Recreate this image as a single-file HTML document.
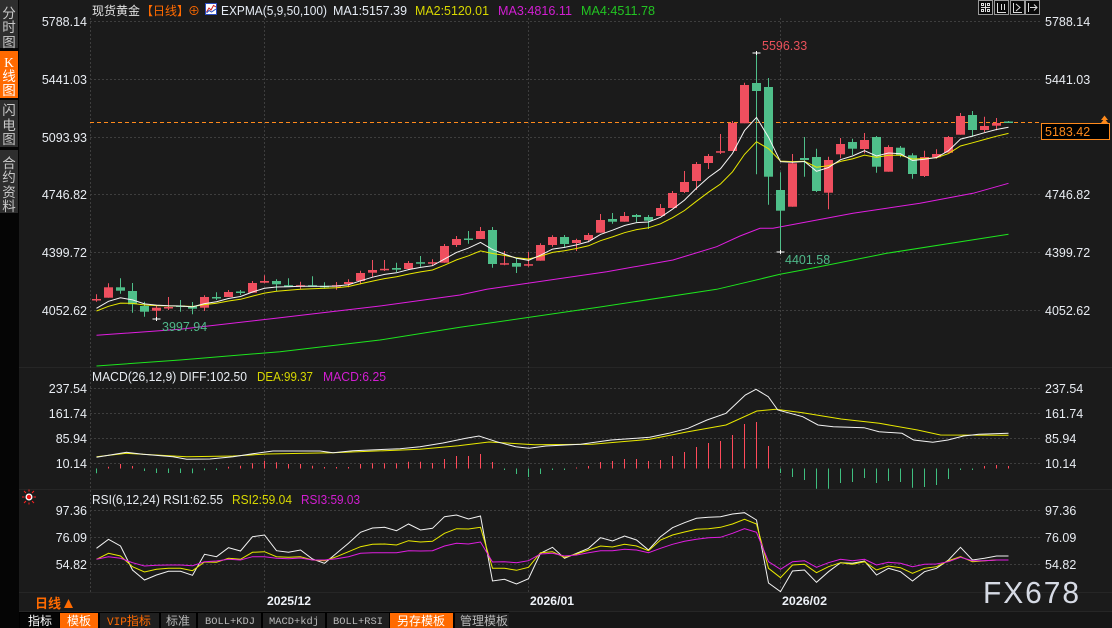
<!DOCTYPE html>
<html><head><meta charset="utf-8">
<style>
html,body{margin:0;padding:0;background:#1b1b1b;width:1112px;height:628px;overflow:hidden}
svg{display:block}
text{font-family:"Liberation Sans","Noto Sans CJK SC",sans-serif}
.ax{font-size:12.5px;fill:#e8ecf2}
.cj{font-family:"Liberation Sans","Noto Sans CJK SC",sans-serif}
.mono{font-family:"Liberation Mono","Noto Sans CJK SC",monospace}
</style></head>
<body>
<svg id="s" width="1112" height="628" viewBox="0 0 1112 628" xmlns="http://www.w3.org/2000/svg">
<rect width="1112" height="628" fill="#1b1b1b"/>

<!-- left sidebar -->
<rect x="0" y="0" width="19" height="628" fill="#050505"/>
<rect x="0" y="0" width="18" height="48" fill="#2e2e2e"/>
<rect x="0" y="51" width="18" height="47" fill="#ff6a00"/>
<rect x="0" y="100" width="18" height="47" fill="#2e2e2e"/>
<rect x="0" y="150" width="18" height="63" fill="#2e2e2e"/>
<g font-size="13.5" text-anchor="middle" fill="#c8c8c8">
<text x="9" y="18">分</text><text x="9" y="32">时</text><text x="9" y="47">图</text>
<text x="9" y="67" fill="#ffffff" style="font-family:'Liberation Serif',serif">K</text><text x="9" y="81" fill="#ffffff">线</text><text x="9" y="95" fill="#ffffff">图</text>
<text x="9" y="115">闪</text><text x="9" y="130">电</text><text x="9" y="144">图</text>
<text x="9" y="168">合</text><text x="9" y="182">约</text><text x="9" y="197">资</text><text x="9" y="211">料</text>
</g>

<!-- panel separators -->
<g stroke="#262626" stroke-width="1">
<line x1="19" y1="367.5" x2="1112" y2="367.5"/>
<line x1="19" y1="489.5" x2="1112" y2="489.5"/>
<line x1="19" y1="592.5" x2="1112" y2="592.5"/>
<line x1="19" y1="611.5" x2="1112" y2="611.5"/>
</g>

<!-- grid -->
<g stroke="#3e3e3e" stroke-width="1" stroke-dasharray="2 2" fill="none">
<line x1="90" y1="21.5" x2="1040" y2="21.5"/>
<line x1="90" y1="79.5" x2="1040" y2="79.5"/>
<line x1="90" y1="137.5" x2="1040" y2="137.5"/>
<line x1="90" y1="194.5" x2="1040" y2="194.5"/>
<line x1="90" y1="252.5" x2="1040" y2="252.5"/>
<line x1="90" y1="310.5" x2="1040" y2="310.5"/>
<line x1="90" y1="388.5" x2="1040" y2="388.5"/>
<line x1="90" y1="413.5" x2="1040" y2="413.5"/>
<line x1="90" y1="438.5" x2="1040" y2="438.5"/>
<line x1="90" y1="463.5" x2="1040" y2="463.5"/>
<line x1="90" y1="510.5" x2="1040" y2="510.5"/>
<line x1="90" y1="537.5" x2="1040" y2="537.5"/>
<line x1="90" y1="564.5" x2="1040" y2="564.5"/>
<line x1="90.5" y1="18" x2="90.5" y2="592"/>
<line x1="264.5" y1="18" x2="264.5" y2="592"/>
<line x1="528.5" y1="18" x2="528.5" y2="592"/>
<line x1="780.5" y1="18" x2="780.5" y2="592"/>
</g>

<!-- current price dashed line -->
<line x1="90" y1="122.5" x2="1040" y2="122.5" stroke="#ff8a1c" stroke-width="1" stroke-dasharray="4 3"/>

<g id="plot"></g>

<!-- header -->
<text x="92" y="15" font-size="12" fill="#e2e2e2">现货黄金</text>
<text x="141" y="15" font-size="12" fill="#ff6a00">【日线】</text>
<text x="188" y="15" font-size="12" fill="#ff6a00">⊕</text>
<rect x="205.5" y="3.5" width="11" height="11" fill="#ffffff" stroke="#2a4cc0"/>
<polyline points="206.5,12 209,8 211,10 213.5,5.5 216,7" fill="none" stroke="#d02020" stroke-width="1"/>
<polyline points="206.5,13 209,10.5 211.5,12 216,9" fill="none" stroke="#2a4cc0" stroke-width="1"/>
<text x="221" y="15" font-size="12.5" fill="#e6ecf5" textLength="106" lengthAdjust="spacingAndGlyphs">EXPMA(5,9,50,100)</text>
<text x="333" y="15" font-size="12.5" fill="#e6ecf5" textLength="74" lengthAdjust="spacingAndGlyphs">MA1:5157.39</text>
<text x="415" y="15" font-size="12.5" fill="#d8d800" textLength="74" lengthAdjust="spacingAndGlyphs">MA2:5120.01</text>
<text x="498" y="15" font-size="12.5" fill="#d21ed2" textLength="74" lengthAdjust="spacingAndGlyphs">MA3:4816.11</text>
<text x="581" y="15" font-size="12.5" fill="#22c422" textLength="74" lengthAdjust="spacingAndGlyphs">MA4:4511.78</text>

<!-- top-right icons -->
<g stroke="#9a9a9a" fill="#0a0a0a">
<rect x="978.5" y="0.5" width="14" height="14"/>
<rect x="994.5" y="0.5" width="14" height="14"/>
<rect x="1010.5" y="0.5" width="14" height="14"/>
<rect x="1025.5" y="0.5" width="14" height="14"/>
</g>
<g stroke="#dddddd" stroke-width="1" fill="none">
<line x1="985.5" y1="3" x2="985.5" y2="12"/><line x1="981" y1="7.5" x2="990" y2="7.5"/>
<rect x="981.5" y="3.5" width="2" height="2"/><rect x="987.5" y="3.5" width="2" height="2"/><rect x="981.5" y="9.5" width="2" height="2"/><rect x="987.5" y="9.5" width="2" height="2"/>
<line x1="997.5" y1="3" x2="997.5" y2="12"/><line x1="997" y1="12.5" x2="1006" y2="12.5"/><line x1="1001.5" y1="4" x2="1001.5" y2="10"/><line x1="1004.5" y1="4" x2="1004.5" y2="10"/>
<line x1="1013.5" y1="3" x2="1013.5" y2="12"/><line x1="1013" y1="12.5" x2="1022" y2="12.5"/><polyline points="1016,4 1020,7.5 1016,11"/>
<line x1="1028.5" y1="3" x2="1028.5" y2="12"/><line x1="1030" y1="7.5" x2="1037" y2="7.5"/><polyline points="1034,4.5 1037,7.5 1034,10.5"/>
</g>

<!-- left axis labels -->
<g class="ax" text-anchor="end">
<text x="87" y="26">5788.14</text>
<text x="87" y="84">5441.03</text>
<text x="87" y="142">5093.93</text>
<text x="87" y="199">4746.82</text>
<text x="87" y="257">4399.72</text>
<text x="87" y="315">4052.62</text>
<text x="87" y="393">237.54</text>
<text x="87" y="418">161.74</text>
<text x="87" y="443">85.94</text>
<text x="87" y="468">10.14</text>
<text x="87" y="515">97.36</text>
<text x="87" y="542">76.09</text>
<text x="87" y="569">54.82</text>
</g>
<!-- right axis labels -->
<g class="ax">
<text x="1045" y="26">5788.14</text>
<text x="1045" y="84">5441.03</text>
<text x="1045" y="199">4746.82</text>
<text x="1045" y="257">4399.72</text>
<text x="1045" y="315">4052.62</text>
<text x="1045" y="393">237.54</text>
<text x="1045" y="418">161.74</text>
<text x="1045" y="443">85.94</text>
<text x="1045" y="468">10.14</text>
<text x="1045" y="515">97.36</text>
<text x="1045" y="542">76.09</text>
<text x="1045" y="569">54.82</text>
</g>
<!-- current price box -->
<rect x="1041.5" y="123.5" width="68" height="16" fill="#000000" stroke="#ff8a1c"/>
<text x="1045" y="136" font-size="12.5" fill="#ff8a1c">5183.42</text>
<polygon points="1101,120 1104.5,115.5 1108,120" fill="#ff8a1c"/>
<polygon points="1101,123 1104.5,118.5 1108,123" fill="#ff8a1c"/>

<!-- extreme labels -->
<text x="762" y="50" font-size="12.5" fill="#e8505a">5596.33</text>
<text x="785" y="264" font-size="12.5" fill="#4fb88a">4401.58</text>
<text x="162" y="331" font-size="12.5" fill="#4fb88a">3997.94</text>

<!-- MACD header -->
<text x="92" y="381" font-size="12.5" fill="#e8ecf2" textLength="155" lengthAdjust="spacingAndGlyphs">MACD(26,12,9) DIFF:102.50</text>
<text x="257" y="381" font-size="12.5" fill="#d8d800" textLength="56" lengthAdjust="spacingAndGlyphs">DEA:99.37</text>
<text x="323" y="381" font-size="12.5" fill="#d21ed2" textLength="63" lengthAdjust="spacingAndGlyphs">MACD:6.25</text>

<!-- RSI header -->
<g>
<line x1="24" y1="491" x2="26" y2="493" stroke="#ff2020"/><line x1="34" y1="491" x2="32" y2="493" stroke="#ff2020"/>
<line x1="24" y1="503" x2="26" y2="501" stroke="#ff2020"/><line x1="34" y1="503" x2="32" y2="501" stroke="#ff2020"/>
<line x1="22" y1="497" x2="24.5" y2="497" stroke="#ff2020"/><line x1="33.5" y1="497" x2="36" y2="497" stroke="#ff2020"/>
<line x1="29" y1="489.5" x2="29" y2="491.5" stroke="#ff2020"/><line x1="29" y1="502.5" x2="29" y2="504.5" stroke="#ff2020"/>
<circle cx="29" cy="497" r="3.5" fill="#ffffff"/><circle cx="29" cy="497" r="2.2" fill="#ee1111"/>
</g>
<text x="92" y="504" font-size="12.5" fill="#e8ecf2" textLength="131" lengthAdjust="spacingAndGlyphs">RSI(6,12,24) RSI1:62.55</text>
<text x="232" y="504" font-size="12.5" fill="#d8d800" textLength="60" lengthAdjust="spacingAndGlyphs">RSI2:59.04</text>
<text x="301" y="504" font-size="12.5" fill="#d21ed2" textLength="59" lengthAdjust="spacingAndGlyphs">RSI3:59.03</text>

<!-- date axis -->
<g font-size="12" font-weight="bold" fill="#eef2f8">
<text x="267" y="605" textLength="44" lengthAdjust="spacingAndGlyphs">2025/12</text>
<text x="530" y="605" textLength="44" lengthAdjust="spacingAndGlyphs">2026/01</text>
<text x="782" y="605" textLength="45" lengthAdjust="spacingAndGlyphs">2026/02</text>
</g>
<text x="35" y="608" font-size="13" font-weight="bold" fill="#ff6a00">日线</text>
<polygon points="64,608 68.5,599 73,608" fill="#ff6a00"/>

<!-- watermark -->
<text x="983" y="603" font-size="31" fill="#d6dae4" letter-spacing="2" textLength="98" lengthAdjust="spacingAndGlyphs">FX678</text>

<!-- bottom toolbar -->
<rect x="19" y="612" width="1093" height="16" fill="#161616"/>
<rect x="19" y="612" width="490" height="16" fill="#000000"/>
<rect x="20" y="613" width="39" height="15" fill="#050505"/>
<rect x="60" y="613" width="38" height="15" fill="#ff6a00"/>
<rect x="100" y="613" width="59" height="15" fill="#1f1f1f"/>
<rect x="161" y="613" width="35" height="15" fill="#1f1f1f"/>
<rect x="198" y="613" width="63" height="15" fill="#1f1f1f"/>
<rect x="263" y="613" width="62" height="15" fill="#1f1f1f"/>
<rect x="327" y="613" width="62" height="15" fill="#1f1f1f"/>
<rect x="390" y="613" width="63" height="15" fill="#ff6a00"/>
<rect x="455" y="613" width="54" height="15" fill="#1f1f1f"/>
<g font-size="12">
<text x="28" y="625" fill="#ffffff">指标</text>
<text x="67" y="625" fill="#ffffff">模板</text>
<text x="107" y="625" fill="#ff6a00"><tspan class="mono" font-size="11">VIP</tspan>指标</text>
<text x="166" y="625" fill="#b8b8b8">标准</text>
<text x="205" y="624" class="mono" font-size="10.5" fill="#b8b8b8" textLength="50" lengthAdjust="spacingAndGlyphs">BOLL+KDJ</text>
<text x="269" y="624" class="mono" font-size="10.5" fill="#b8b8b8" textLength="50" lengthAdjust="spacingAndGlyphs">MACD+kdj</text>
<text x="333" y="624" class="mono" font-size="10.5" fill="#b8b8b8" textLength="50" lengthAdjust="spacingAndGlyphs">BOLL+RSI</text>
<text x="397" y="625" fill="#ffffff">另存模板</text>
<text x="460" y="625" fill="#b8b8b8">管理模板</text>
</g>
</svg>

<script>
(function(){
var R='#ef4f5f',G='#4fbf8a';
var C=[
['r',299,300,294.3,301.7],['r',287.3,297.7,283.3,297.7],['g',287.3,290.7,278.3,293.7],['g',291,304.3,283,312.7],['g',306,311.7,301.7,316.7],
['r',307.7,310.7,306,319],['r',307,308,297,310],['g',305.5,306.5,300,311.7],['g',306,308.7,302,314.3],['r',297,307.7,295.3,311],
['g',297,298,292.3,300],['r',292,297,290,297],['g',291.5,292.5,290,295],['r',283,292.7,281,292.7],['r',281,282.7,275.3,283.3],
['g',281,284.3,279.3,291],['g',285.2,286.2,278.3,286.3],['r',285.2,286.2,281.7,289.3],['g',285.2,286.2,276.3,286.3],['g',285.8,286.8,282.3,288.7],
['r',285.2,286.2,282,289.7],['r',282,284,279.3,287.3],['r',273,281,270.7,284.3],['r',270,272.7,260,277.3],['r',268.8,269.8,260,271],
['g',268,269.7,262.7,272],['r',263,269,261,270],['g',262.2,263.2,256,266.7],['r',262.2,263.2,259.3,266],['r',246,262.7,244,262.7],
['r',239,245,236,247],['g',238.5,239.5,231,243.7],['r',231,239,227,239],['g',230,264,227,267.7],['r',263.2,264.2,251,265.3],
['g',263,266.7,257.7,273],['r',264.2,265.2,252,266.7],['r',245,260.7,243.3,260.7],['r',237,245,235.3,246.7],['g',237,244,235,247.7],
['r',240,243,238.7,251],['r',235,240,233,242.3],['r',220,232.7,214,232.7],['g',219,221.7,213,223.7],['r',216,221.7,212,221.7],
['g',215,217,214,222],['g',217,220.7,215,229],['r',208,216,204,216],['r',193,208,191,208],['r',182,192,171,193],
['r',164,181,162,190],['r',156,163,154,169],['r',151.2,152.2,134,154],['r',123,151,121,151],['r',85,123.3,82.7,123.3],
['g',83,91,52.7,174.3],['g',87,176.7,78,204.7],['g',190,210.7,172.3,252],['r',163.3,206.7,154,206.7],['g',158,160,137,176.7],
['g',157,191,148.7,192],['r',160,192.7,156.7,209.3],['r',144,154.3,138,158.3],['g',142,148.7,138.7,155],['r',140,149,133,153.3],
['g',137,166.7,136,172.7],['r',147,171.7,145.3,171.7],['g',147.7,155,146,157.3],['g',155.3,174,153.3,178.7],['r',157,176,150.7,177],
['r',154,157.3,149.3,158.7],['r',137,152.7,136,152.7],['r',116,134.7,113,134.7],['g',115,130,111,136.7],['r',126,130,116.7,132],
['r',123,125.7,118,130.3],['g',121.5,122.5,121,122.5]];
function X(k){return 96.5+12*k;}
var s='';
// long MAs
s+='<polyline fill="none" stroke="#1ee41e" stroke-width="1" points="96.5,366 180,360 280,351.7 380,340 460,327.3 600,307 716.7,289.3 780,274.3 806.7,269.3 886.7,253.3 1008.5,234.3"/>';
s+='<polyline fill="none" stroke="#e01ee0" stroke-width="1" points="96.5,335.3 180,329.3 280,317.7 380,306 460,295 486.7,289.3 606.7,271.7 673,260 716.7,246.7 740,236 760,228.3 773,228.3 853,213.3 920,203.3 973,193.3 1008.5,183.3"/>';
// candles
var e5=308.3,e9=311,p5=[],p9=[];
for(var k=0;k<C.length;k++){
 var c=C[k],col=c[0]=='r'?R:G,x=X(k);
 s+='<line x1="'+x+'" x2="'+x+'" y1="'+c[3]+'" y2="'+c[4]+'" stroke="'+col+'" stroke-width="1"/>';
 var h=Math.max(1.5,c[2]-c[1]);
 s+='<rect x="'+(x-4.5)+'" y="'+c[1]+'" width="9" height="'+h+'" fill="'+col+'"/>';
 var cl=c[0]=='r'?c[1]:c[2];
 if(k>0){e5+=(cl-e5)/3;e9+=(cl-e9)/5;}
 p5.push(x+','+e5.toFixed(1));p9.push(x+','+e9.toFixed(1));
}
s+='<polyline fill="none" stroke="#e8e800" stroke-width="1" points="'+p9.join(' ')+'"/>';
s+='<polyline fill="none" stroke="#f5f5f5" stroke-width="1" points="'+p5.join(' ')+'"/>';
// extreme markers
function mk(x,y){return '<line x1="'+(x-4)+'" x2="'+(x+4)+'" y1="'+y+'" y2="'+y+'" stroke="#fff"/><line x1="'+x+'" x2="'+x+'" y1="'+(y-2)+'" y2="'+(y+2)+'" stroke="#fff"/>';}
s+=mk(X(55),53)+mk(X(57),252)+mk(X(5),319);
// MACD bars
var M=[473.3,466.7,464,466,471,473,473,473,473.3,470.3,469.5,466.7,465.7,463.3,460.7,462.3,464,464,465.7,467,467,467,464,463.3,463.3,463.3,461.7,461.7,463,459,456,456,454,462,469.5,474,477,474,470,469.3,467.5,466,462,461,459,459,461,460,456,452,447,443,441,435,424,422,446,473,477,480,488.7,488.7,483,482,478,483,481,482,487.7,487,485,479,470,469.3,466,465,466];
var Z=468.5;
for(var k=0;k<M.length;k++){
 var x=X(k),v=M[k];
 if(v<Z){s+='<line x1="'+x+'" x2="'+x+'" y1="'+v+'" y2="'+Z+'" stroke="#ff4a5a"/>';}
 else{s+='<line x1="'+x+'" x2="'+x+'" y1="'+Z+'" y2="'+Math.max(v,Z+1.5)+'" stroke="#3fbf7f"/>';}
}
s+='<polyline fill="none" stroke="#e8e800" stroke-width="1" points="96.5,456.7 126.7,453.3 186.7,456.7 233,456 266.7,454 333,452.7 420,449.3 458.3,445.7 488.9,442 534.8,444.7 592.2,444.3 649.6,439.3 688,431.7 726,425 756.8,411 775.9,409.3 802.7,412.7 841,419 879.2,423.3 917.5,430 940.5,435 1008.5,435.3"/>';
s+='<polyline fill="none" stroke="#f2f2f2" stroke-width="1" points="96.5,457.3 126.7,452.3 143,454.3 173,456.7 186.7,459.3 210,459 233,456.7 260,452.7 273,451 320,451 333,452.7 353,450.7 400,448.7 420,446.7 443,443 466,438.3 479,436 496.5,441.7 515.7,446.7 529,448.3 546,446 580.7,444.3 611,440 649.6,437.3 668.8,433.3 688,428.3 707,420 726,413.3 745.3,395 756,389.3 768.3,396.7 777.8,410 802.7,416.7 818,425 833.3,426.7 864,427.7 879,431.7 902,433.3 913.7,440 932.8,442.3 948,440 963.4,436 978.7,434.3 1008.5,433.3"/>';
// RSI
var R1=[548.3,539.3,546,570,580,575,571.3,571.3,575.3,554.3,556.7,547.7,551,536.7,535,550.7,552.3,550,559,563.3,553.3,543.3,532.3,528,527.3,530.7,524,530,528.3,516.7,515,519,516,581,579.3,584,578.7,553.3,547.3,558.3,553.3,548.3,537.7,541,536,540,550,536.7,527.7,522.7,518.3,517.3,516.7,514,512.7,520,583,591.7,571,570,582.3,571.7,562.7,563.3,561,575,568.3,571.7,581,571.7,568.3,560,547.3,560,558.3,556,556];
var R2=[559.3,553.3,556,566.7,572,569.3,568.3,568.3,570.7,562,562.3,558.3,559.3,552.3,551.7,556.7,557.3,556.7,560,560.7,556.7,551.7,546.7,544.3,544,545,540.7,542,541.3,533.3,528.7,529,527.3,568.3,568.3,570.3,567.3,552.7,551.7,557.3,554,550,546,547,544.3,546,550.7,540,535,532,529.3,528.7,527.3,524,519.3,524,568.3,577.7,565,564.3,572.7,566.7,562.7,564.3,561.7,570,566,567.7,573.3,568.3,566.7,560.7,556.7,561.7,560.7,560,560];
var R3=[559.3,556.7,558.3,562.7,566,565.3,565,565,565.7,561.7,561,559.3,560,556.7,556.7,558.3,558.7,558,560,560,558.7,556.7,553.3,552.7,552.7,552.7,550.7,551,550.7,546,543.3,544,542,562,561.7,562.7,560.7,554,553.3,556,555,552.7,550.7,550.7,549.3,550,552.7,548.3,544.3,541.3,539.3,537.7,537.3,533.3,528.7,532.3,561.7,569.3,561.7,560.7,567.3,562.7,559.3,560.7,559.3,565,562.3,563.3,566.7,564.3,564,561.7,557.3,560.7,560.7,560,560];
function pl(a,col){var p=[];for(var i=0;i<a.length;i++)p.push(X(i)+','+a[i]);return '<polyline fill="none" stroke="'+col+'" stroke-width="1" points="'+p.join(' ')+'"/>';}
s+=pl(R1,'#f2f2f2')+pl(R2,'#e8e800')+pl(R3,'#e01ee0');
document.getElementById('plot').innerHTML=s;
})();
</script>
</body></html>
